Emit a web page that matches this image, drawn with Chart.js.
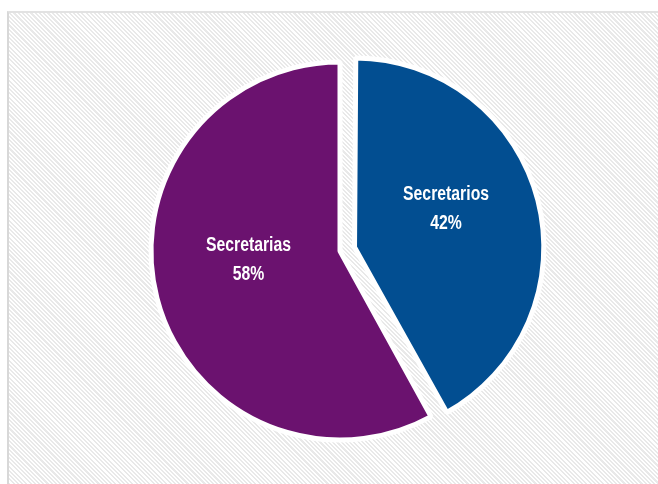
<!DOCTYPE html>
<html lang="es">
<head>
    <meta charset="UTF-8">
    <title>Secretarios / Secretarias</title>
    <script src="https://cdn.jsdelivr.net/npm/chart.js"></script>
    <style>
        html, body {
            margin: 0;
            padding: 0;
            background: #fff;
            overflow: hidden;
        }
        #frame {
            position: absolute;
            left: 7px;
            top: 11px;
            width: 700px;
            height: 520px;
            border-left: 2px solid #d8d8d8;
            border-top: 2px solid #e2e2e2;
            background: repeating-linear-gradient(45deg, #ffffff 0px, #ffffff 1.5px, #e9e9e9 1.5px, #e9e9e9 3px);
        }
        #pieChart {
            position: absolute;
            left: 0;
            top: 0;
        }
    </style>
</head>
<body>
    <div id="frame"></div>
    <canvas id="pieChart" width="658" height="484"></canvas>

    <script>
        // datos
        const categories = ['Secretarios', 'Secretarias'];
        const shares = [42, 58];
        const sliceColors = ['#024e91', '#6b126f'];
        // Chart.js v4 desplaza la porción offset/4 px y la agranda offset/8 px
        const sliceOffsets = [60, 0];

        // se compensa el agrandamiento para que ambas porciones tengan el mismo radio
        const keepRadius = {
            id: 'keepRadius',
            afterDatasetsUpdate(chart) {
                chart.getDatasetMeta(0).data.forEach(arc => {
                    arc.outerRadius -= (arc.options.offset || 0) / 8;
                });
            }
        };

        // etiquetas dentro de cada porción (fuente estrecha simulada)
        const sliceLabels = {
            id: 'sliceLabels',
            afterDatasetsDraw(chart) {
                const ctx = chart.ctx;
                const meta = chart.getDatasetMeta(0);
                ctx.save();
                ctx.fillStyle = '#ffffff';
                ctx.textAlign = 'center';
                ctx.textBaseline = 'middle';
                ctx.font = 'bold 20px "Liberation Sans", Arial, sans-serif';
                const squeeze = Math.min(1, 86 / ctx.measureText('Secretarios').width);
                meta.data.forEach((arc, i) => {
                    const mid = (arc.startAngle + arc.endAngle) / 2;
                    const off = arc.options.offset || 0;
                    const r = off / 4 + (arc.outerRadius + off / 8) / 2;
                    const x = arc.x + Math.cos(mid) * r;
                    const y = arc.y + Math.sin(mid) * r;
                    ctx.save();
                    ctx.translate(x, y);
                    ctx.scale(squeeze, 1);
                    ctx.fillText(categories[i], 0, -29);
                    ctx.fillText(shares[i] + '%', 0, 0);
                    ctx.restore();
                });
                ctx.restore();
            }
        };

        new Chart(document.getElementById('pieChart'), {
            type: 'pie',
            data: {
                labels: categories,
                datasets: [{
                    data: shares,
                    backgroundColor: sliceColors,
                    borderColor: '#ffffff',
                    borderWidth: 5,
                    offset: sliceOffsets
                }]
            },
            options: {
                responsive: false,
                animation: false,
                radius: 189,
                layout: {
                    padding: { left: 32, right: 10, top: 28, bottom: 10 }
                },
                plugins: {
                    legend: { display: false },
                    tooltip: { enabled: false }
                }
            },
            plugins: [keepRadius, sliceLabels]
        });
    </script>
</body>
</html>
